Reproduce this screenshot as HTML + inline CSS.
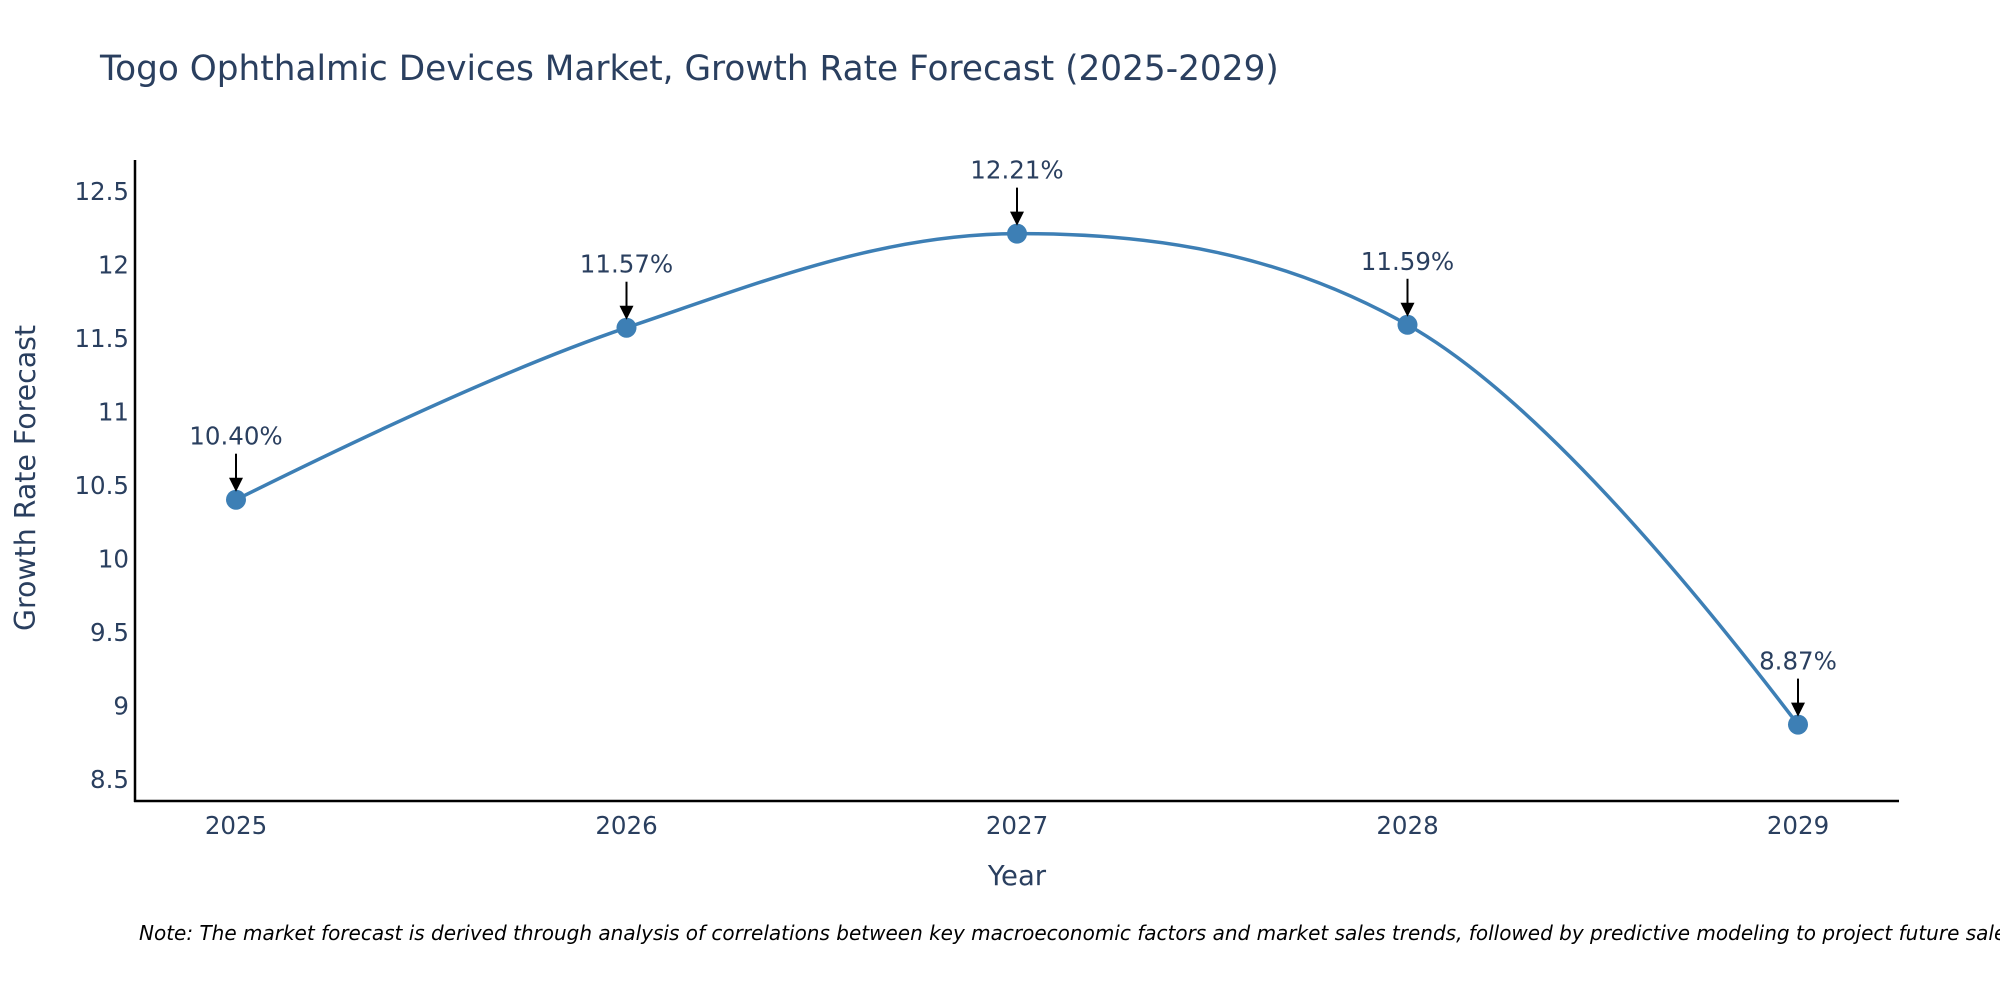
<!DOCTYPE html>
<html><head><meta charset="utf-8"><style>
html,body{margin:0;padding:0;background:#fff;}
svg{display:block;font-family:"DejaVu Sans","Liberation Sans",sans-serif;}
</style></head><body>
<svg id="chart" width="2000" height="1000" viewBox="0 0 2000 1000" xmlns="http://www.w3.org/2000/svg">
<rect width="2000" height="1000" fill="#fff"/>
<text x="100" y="80" font-size="34.3" fill="#2a3f5f">Togo Ophthalmic Devices Market, Growth Rate Forecast (2025-2029)</text>
<g id="yticks"></g><g id="xticks"></g>
<line x1="135" y1="160" x2="135" y2="802" stroke="#000" stroke-width="2.5"/>
<line x1="134" y1="801" x2="1899" y2="801" stroke="#000" stroke-width="2.5"/>
<path id="line" fill="none" stroke="#3d7fb5" stroke-width="3.5"/>
<g id="marks"></g>
<text transform="translate(35,478) rotate(-90)" text-anchor="middle" font-size="28.4" fill="#2a3f5f">Growth Rate Forecast</text>
<text x="1017" y="885" text-anchor="middle" font-size="27.5" fill="#2a3f5f">Year</text>
<text x="139" y="940" font-size="20" font-style="italic" fill="#000">Note: The market forecast is derived through analysis of correlations between key macroeconomic factors and market sales trends, followed by predictive modeling to project future sales.</text>
</svg>
<script>
const years = [2025, 2026, 2027, 2028, 2029];
const rates = [10.40, 11.57, 12.21, 11.59, 8.87];
const labels = ["10.40%", "11.57%", "12.21%", "11.59%", "8.87%"];
const yTicks = [8.5, 9, 9.5, 10, 10.5, 11, 11.5, 12, 12.5];
const yTickLabels = ["8.5", "9", "9.5", "10", "10.5", "11", "11.5", "12", "12.5"];
const NS = "http://www.w3.org/2000/svg";
function xs(yr){return 236 + (yr-2025)*390.5;}
function ys(v){return 191 + (12.5-v)*147;}
function mk(tag, attrs, parent){const e=document.createElementNS(NS,tag);for(const k in attrs)e.setAttribute(k,attrs[k]);parent.appendChild(e);return e;}
const yt=document.getElementById('yticks');
yTicks.forEach((v,i)=>{const t=mk('text',{x:129,y:ys(v)+9,'text-anchor':'end','font-size':24.5,fill:'#2a3f5f'},yt);


t.textContent=yTickLabels[i];});
const xt=document.getElementById('xticks');
years.forEach(yr=>{const t=mk('text',{x:xs(yr),y:834,'text-anchor':'middle','font-size':24.5,fill:'#2a3f5f'},xt);


t.textContent=String(yr);});
const pts=years.map((y,i)=>[xs(y),ys(rates[i])]);
function tangent(p0,p1,p2,s){
 const d1x=p0[0]-p1[0],d1y=p0[1]-p1[1],d2x=p2[0]-p1[0],d2y=p2[1]-p1[1];
 const d1a=Math.pow(d1x*d1x+d1y*d1y,0.25),d2a=Math.pow(d2x*d2x+d2y*d2y,0.25);
 const nx=(d2a*d2a*d1x-d1a*d1a*d2x)*s,ny=(d2a*d2a*d1y-d1a*d1a*d2y)*s;
 const den1=3*d2a*(d1a+d2a),den2=3*d1a*(d1a+d2a);
 return [[p1[0]+nx/den1,p1[1]+ny/den1],[p1[0]-nx/den2,p1[1]-ny/den2]];
}
const tg=[];for(let i=1;i<pts.length-1;i++)tg.push(tangent(pts[i-1],pts[i],pts[i+1],1.05));
const P=p=>p[0].toFixed(2)+','+p[1].toFixed(2);
let d='M'+P(pts[0])+'Q'+P(tg[0][0])+' '+P(pts[1]);
for(let i=2;i<pts.length-1;i++)d+='C'+P(tg[i-2][1])+' '+P(tg[i-1][0])+' '+P(pts[i]);
d+='Q'+P(tg[tg.length-1][1])+' '+P(pts[pts.length-1]);
document.getElementById('line').setAttribute('d',d);
const mg=document.getElementById('marks');
pts.forEach((p,i)=>{
 const c=mk('circle',{cx:p[0],cy:p[1],r:10,fill:'#3d7fb5'},mg);
 
 
 const l=mk('line',{x1:p[0],y1:p[1]-46,x2:p[0],y2:p[1]-20,stroke:'#000','stroke-width':2},mg);
 
 
 const a=mk('path',{d:`M${p[0]-7},${p[1]-22}L${p[0]+7},${p[1]-22}L${p[0]},${p[1]-8}Z`,fill:'#000'},mg);
 
 
 const t=mk('text',{x:p[0],y:p[1]-55,'text-anchor':'middle','font-size':24.5,fill:'#2a3f5f'},mg);
 
 
 t.textContent=labels[i];
});
</script>
</body></html>
